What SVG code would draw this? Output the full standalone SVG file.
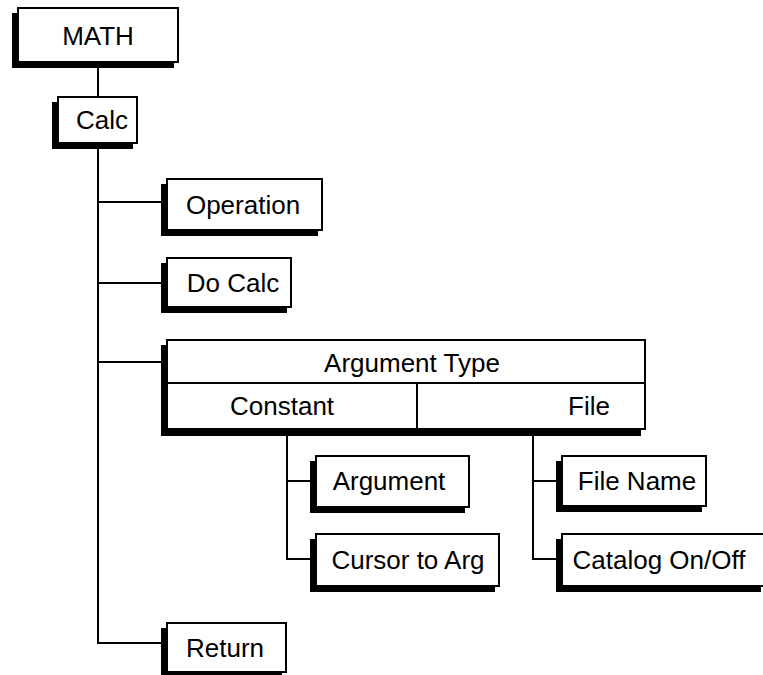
<svg xmlns="http://www.w3.org/2000/svg" width="763" height="675" viewBox="0 0 763 675">
<style>
.sh{fill:#000;stroke:none}
.bx{fill:#fff;stroke:#000;stroke-width:2}
.ln{fill:none;stroke:#000;stroke-width:2}
text{font-family:"Liberation Sans",Arial,Helvetica,sans-serif;font-size:26px;fill:#000}
.c{text-anchor:middle}
</style>
<rect width="763" height="675" fill="#fff"/>
<g id="connectors">
<path class="ln" d="M98,62V97"/>
<path class="ln" d="M98,143V643H161"/>
<path class="ln" d="M98,202H161M98,283H161M98,362H161"/>
<path class="ln" d="M287,429V559H310M287,481H310"/>
<path class="ln" d="M533,429V559H556M533,481H556"/>
</g>
<g id="math">
<rect class="sh" x="12" y="13" width="162" height="55"/>
<rect class="bx" x="18" y="8" width="160" height="54"/>
<text class="c" x="98" y="45">MATH</text>
</g>
<g id="calc">
<rect class="sh" x="52" y="102" width="81" height="47"/>
<rect class="bx" x="58" y="97" width="79" height="46"/>
<text class="c" x="102" y="129">Calc</text>
</g>
<g id="operation">
<rect class="sh" x="161" y="184" width="157" height="52"/>
<rect class="bx" x="167" y="179" width="155" height="51"/>
<text class="c" x="243" y="214">Operation</text>
</g>
<g id="docalc">
<rect class="sh" x="161" y="263" width="126" height="50"/>
<rect class="bx" x="167" y="258" width="124" height="49"/>
<text class="c" x="233" y="292">Do Calc</text>
</g>
<g id="argtype">
<rect class="sh" x="161" y="345" width="480" height="91"/>
<rect class="bx" x="167" y="340" width="478" height="89"/>
<path class="ln" d="M167,383H645M417,383V429"/>
<text class="c" x="412" y="372">Argument Type</text>
<text x="230" y="415">Constant</text>
<text x="568" y="415">File</text>
</g>
<g id="argument">
<rect class="sh" x="310" y="461" width="155" height="52"/>
<rect class="bx" x="316" y="456" width="153" height="51"/>
<text class="c" x="389" y="490">Argument</text>
</g>
<g id="cursortoarg">
<rect class="sh" x="310" y="539" width="185" height="53"/>
<rect class="bx" x="316" y="534" width="183" height="52"/>
<text class="c" x="408" y="569">Cursor to Arg</text>
</g>
<g id="filename">
<rect class="sh" x="556" y="461" width="146" height="51"/>
<rect class="bx" x="562" y="456" width="144" height="50"/>
<text class="c" x="637" y="490">File Name</text>
</g>
<g id="catalog">
<rect class="sh" x="556" y="539" width="205" height="53"/>
<rect class="bx" x="562" y="534" width="210" height="52"/>
<text class="c" x="659" y="569">Catalog On/Off</text>
</g>
<g id="return">
<rect class="sh" x="161" y="628" width="121" height="50"/>
<rect class="bx" x="167" y="623" width="119" height="49"/>
<text class="c" x="225" y="657">Return</text>
</g>
</svg>
